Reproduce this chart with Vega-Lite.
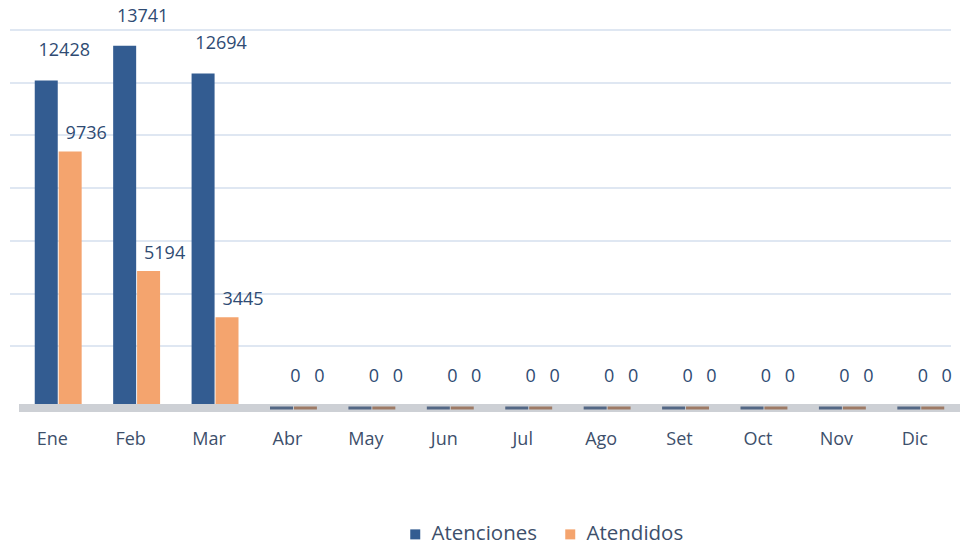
{
  "$schema": "https://vega.github.io/schema/vega-lite/v6.json",
  "autosize": {"type": "none"},
  "width": 941,
  "height": 369,
  "padding": {"left": 19, "top": 39, "right": 2, "bottom": 141},
  "background": "white",
  "config": {"view": {"stroke": null}, "font": "Open Sans"},
  "data": {"values": [
    {"mes": "Ene", "serie": "Atenciones", "valor": 12428},
    {"mes": "Ene", "serie": "Atendidos", "valor": 9736},
    {"mes": "Feb", "serie": "Atenciones", "valor": 13741},
    {"mes": "Feb", "serie": "Atendidos", "valor": 5194},
    {"mes": "Mar", "serie": "Atenciones", "valor": 12694},
    {"mes": "Mar", "serie": "Atendidos", "valor": 3445},
    {"mes": "Abr", "serie": "Atenciones", "valor": 0},
    {"mes": "Abr", "serie": "Atendidos", "valor": 0},
    {"mes": "May", "serie": "Atenciones", "valor": 0},
    {"mes": "May", "serie": "Atendidos", "valor": 0},
    {"mes": "Jun", "serie": "Atenciones", "valor": 0},
    {"mes": "Jun", "serie": "Atendidos", "valor": 0},
    {"mes": "Jul", "serie": "Atenciones", "valor": 0},
    {"mes": "Jul", "serie": "Atendidos", "valor": 0},
    {"mes": "Ago", "serie": "Atenciones", "valor": 0},
    {"mes": "Ago", "serie": "Atendidos", "valor": 0},
    {"mes": "Set", "serie": "Atenciones", "valor": 0},
    {"mes": "Set", "serie": "Atendidos", "valor": 0},
    {"mes": "Oct", "serie": "Atenciones", "valor": 0},
    {"mes": "Oct", "serie": "Atendidos", "valor": 0},
    {"mes": "Nov", "serie": "Atenciones", "valor": 0},
    {"mes": "Nov", "serie": "Atendidos", "valor": 0},
    {"mes": "Dic", "serie": "Atenciones", "valor": 0},
    {"mes": "Dic", "serie": "Atendidos", "valor": 0}
  ]},
  "encoding": {
    "x": {
      "field": "mes", "type": "nominal", "sort": null,
      "scale": {"paddingInner": 0.39, "paddingOuter": 0.195},
      "axis": {"title": null, "domain": false, "ticks": false, "labelAngle": 0, "labelOffset": -6,
               "labelFontSize": 18, "labelColor": "#3D4F6B", "labelPadding": 22, "grid": false}
    },
    "xOffset": {"field": "serie", "type": "nominal", "sort": ["Atenciones", "Atendidos"]},
    "y": {"field": "valor", "type": "quantitative",
          "scale": {"domain": [0, 14000], "nice": false},
          "axis": {"title": null, "labels": false, "ticks": false, "domain": false,
                   "values": [2000, 4000, 6000, 8000, 10000, 12000, 14000],
                   "gridColor": "#D5DFEE", "gridWidth": 1.5, "translate": -9}}
  },
  "layer": [
    {
      "mark": {"type": "bar", "size": 23},
      "encoding": {
        "color": {"field": "serie", "type": "nominal",
                  "scale": {"domain": ["Atenciones", "Atendidos"], "range": ["#335C91", "#F4A46E"]},
                  "legend": {"title": null, "orient": "none", "direction": "horizontal",
                             "legendX": 386, "legendY": 485, "symbolType": "square",
                             "symbolSize": 100, "labelFontSize": 20.5, "labelColor": "#3D4F6B",
                             "labelOffset": 6, "columnPadding": 22, "symbolStrokeWidth": 0}}
      }
    },
    {
      "transform": [{"filter": "datum.valor === 0 && datum.serie === 'Atenciones'"}],
      "mark": {"type": "rule", "color": "#CDD0D5", "strokeWidth": 8},
      "encoding": {"xOffset": null, "x": null}
    },
    {
      "transform": [{"filter": "datum.valor === 0"}],
      "mark": {"type": "tick", "size": 23, "thickness": 3},
      "encoding": {
        "color": {"condition": {"test": "datum.serie === 'Atenciones'", "value": "#1F3B63"}, "value": "#8A5535"}
      }
    },
    {
      "transform": [{"filter": "datum.serie === 'Atenciones' && datum.valor > 0"}],
      "mark": {"type": "text", "fontSize": 18, "color": "#2F4B73", "baseline": "middle", "dx": 18, "dy": -29},
      "encoding": {
        "text": {"field": "valor", "type": "quantitative", "format": "d"}
      }
    },
    {
      "transform": [{"filter": "datum.serie === 'Atendidos' && datum.valor > 0"}],
      "mark": {"type": "text", "fontSize": 18, "color": "#2F4B73", "baseline": "middle", "dx": 16, "dy": -17},
      "encoding": {
        "text": {"field": "valor", "type": "quantitative", "format": "d"}
      }
    },
    {
      "transform": [{"filter": "datum.valor === 0"}],
      "mark": {"type": "text", "fontSize": 18, "color": "#2F4B73", "baseline": "middle", "dx": 14, "dy": -31},
      "encoding": {
        "text": {"field": "valor", "type": "quantitative", "format": "d"}
      }
    }
  ]
}
